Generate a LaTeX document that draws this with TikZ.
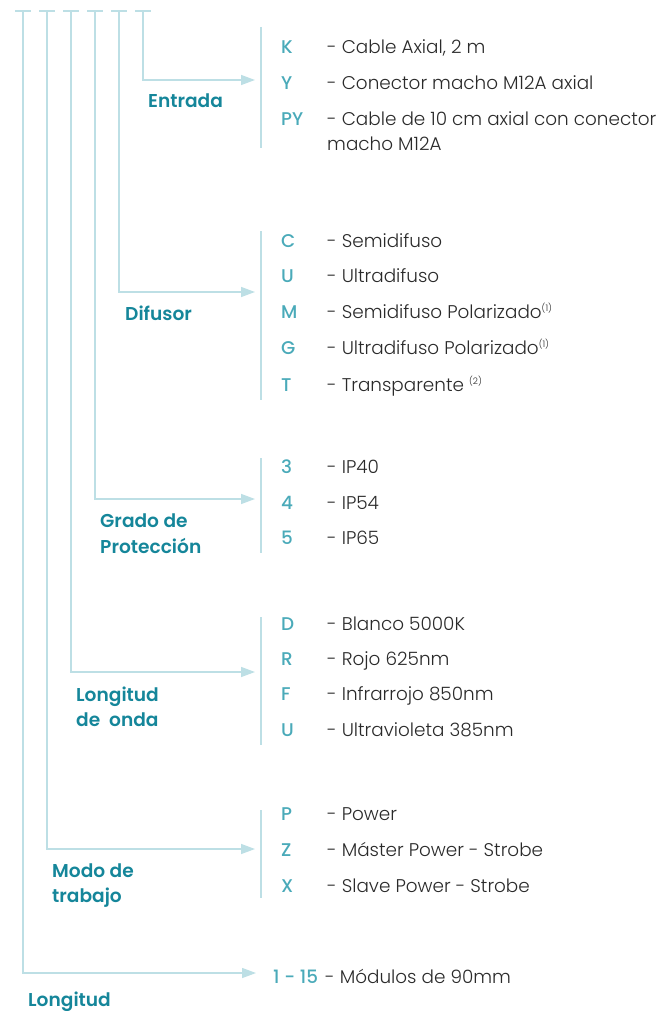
\documentclass[tikz,border=0pt]{standalone}
\usepackage{fontspec}
\setmainfont{Poppins}
\newfontfamily\lightf{Poppins Light}
\newfontfamily\semif{Poppins SemiBold}
\newfontfamily\medf{Poppins Medium}
\usetikzlibrary{arrows.meta}
\definecolor{linec}{HTML}{BDDFE5}
\definecolor{labc}{HTML}{15869A}
\definecolor{codec}{HTML}{4AAAB9}
\definecolor{txtc}{HTML}{2A2A2A}
\begin{document}
\begin{tikzpicture}[x=1pt,y=-1pt,
  conn/.style={draw=linec, line width=1.4pt},
  arr/.style={conn, -{Triangle[length=14pt,width=10pt]}},
  bar/.style={draw=linec, line width=1.4pt},
  lab/.style={anchor=base west, inner sep=0pt, text=labc, font=\fontsize{18.6}{25}\selectfont\semif},
  codet/.style={anchor=base west, inner sep=0pt, text=codec, font=\fontsize{18.4}{20}\selectfont\medf},
  desc/.style={anchor=base west, inner sep=0pt, text=txtc, font=\fontsize{18.4}{25}\selectfont\lightf},
  supx/.style={}]
\useasboundingbox (0,0) rectangle (662,1011);
% top ticks and tree lines
\foreach \n/\x in {a/23,b/47,c/71,d/95,e/119,f/143}{
  \coordinate (t\n) at (\x,11);
  \draw[conn] (\x-8,11) -- (\x+8,11);
}
\coordinate (ea) at (255,80);
\coordinate (da) at (255,292);
\coordinate (ga) at (255,499);
\coordinate (oa) at (255,672);
\coordinate (ma) at (255,849);
\coordinate (la) at (256,973);
\draw[arr] (tf) |- (ea);
\draw[arr] (te) |- (da);
\draw[arr] (td) |- (ga);
\draw[arr] (tc) |- (oa);
\draw[arr] (tb) |- (ma);
\draw[arr] (ta) |- (la);
% right bars
\draw[bar] (261,27) -- (261,148);
\draw[bar] (261,231) -- (261,400);
\draw[bar] (261,458) -- (261,553);
\draw[bar] (261,617) -- (261,745);
\draw[bar] (261,810) -- (261,898);
% labels
\node[lab] (lEntrada) at (148,108) {Entrada};
\node[lab] (lDifusor) at (125,320) {Difusor};
\node[lab] (lGrado) at (100,527) {Grado de};
\node[lab] (lGrado2) at (100,553) {Protección};
\node[lab] (lOnda) at (76,701) {Longitud};
\node[lab] (lOnda2) at (76,726) {de\ \ onda};
\node[lab] (lModo) at (52,877) {Modo de};
\node[lab] (lModo2) at (52,902) {trabajo};
\node[lab] (lLong) at (28,1006) {Longitud};
% Entrada
\node[codet] (cK) at (281,54) {K};   \node[desc] (dK) at (327,54) {- Cable Axial, 2 m};
\node[codet] (cY) at (281,90) {Y};   \node[desc] (dY) at (327,90) {- Conector macho M12A axial};
\node[codet] (cPY) at (281,126) {PY}; \node[desc] (dPY) at (327,126) {- Cable de 10 cm axial con conector};
\node[desc] (dPY2) at (327,151) {macho M12A};
% Difusor
\node[codet] (cC) at (281,247) {C}; \node[desc] (dC) at (327,247) {- Semidifuso};
\node[codet] (cU) at (281,282) {U}; \node[desc] (dU) at (327,282) {- Ultradifuso};
\node[codet] (cM) at (281,318) {M}; \node[desc] (dM) at (327,318) {- Semidifuso Polarizado\raisebox{6.5pt}{\fontsize{9}{9}\selectfont(1)}};
\node[codet] (cG) at (281,354) {G}; \node[desc] (dG) at (327,354) {- Ultradifuso Polarizado\raisebox{6.5pt}{\fontsize{9}{9}\selectfont(1)}};
\node[codet] (cT) at (281,391) {T}; \node[desc] (dT) at (327,391) {- Transparente \raisebox{6.5pt}{\fontsize{9}{9}\selectfont(2)}};
% Grado
\node[codet] (c3) at (281,473) {3}; \node[desc] (d3) at (327,473) {- IP40};
\node[codet] (c4) at (281,509) {4}; \node[desc] (d4) at (327,509) {- IP54};
\node[codet] (c5) at (281,544) {5}; \node[desc] (d5) at (327,544) {- IP65};
% Onda
\node[codet] (cD) at (281,630) {D}; \node[desc] (dD) at (327,630) {- Blanco 5000K};
\node[codet] (cR) at (281,665) {R}; \node[desc] (dR) at (327,665) {- Rojo 625nm};
\node[codet] (cF) at (281,700) {F}; \node[desc] (dF) at (327,700) {- Infrarrojo 850nm};
\node[codet] (cU2) at (281,736) {U}; \node[desc] (dU2) at (327,736) {- Ultravioleta 385nm};
% Modo
\node[codet] (cP) at (281,820) {P}; \node[desc] (dP) at (327,820) {- Power};
\node[codet] (cZ) at (281,856) {Z}; \node[desc] (dZ) at (327,856) {- Máster Power - Strobe};
\node[codet] (cX) at (281,892) {X}; \node[desc] (dX) at (327,892) {- Slave Power - Strobe};
% Longitud
\node[codet] (c115) at (273,983) {1 - 15}; \node[desc] (d115) at (325,983) {- Módulos de 90mm};
\end{tikzpicture}
\end{document}
